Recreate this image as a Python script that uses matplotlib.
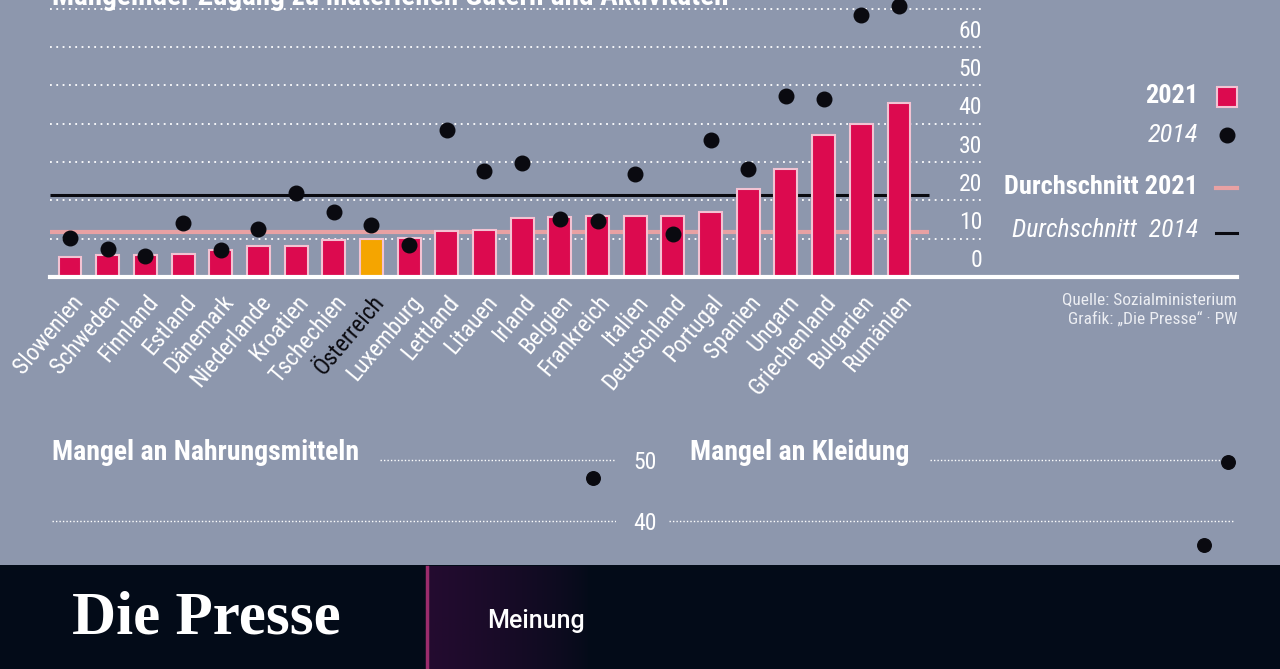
import matplotlib
matplotlib.use("Agg")
import matplotlib.pyplot as plt
import numpy as np
from matplotlib import font_manager as fm
from matplotlib.patches import Rectangle
from matplotlib.lines import Line2D
import matplotlib.transforms as mtransforms

countries = ["Slowenien", "Schweden", "Finnland", "Estland", "Dänemark", "Niederlande",
             "Kroatien", "Tschechien", "Österreich", "Luxemburg", "Lettland", "Litauen",
             "Irland", "Belgien", "Frankreich", "Italien", "Deutschland", "Portugal",
             "Spanien", "Ungarn", "Griechenland", "Bulgarien", "Rumänien"]
values_2021 = [5.3, 5.8, 5.8, 6.0, 7.0, 8.0, 8.0, 9.7, 9.8, 10.3, 11.9, 12.2,
               15.3, 15.6, 15.8, 15.8, 16.0, 17.0, 22.9, 28.3, 37.2, 39.9, 45.5]
values_2014 = [10.3, 7.4, 5.5, 14.2, 7.0, 12.6, 21.9, 17.0, 13.5, 8.3, 38.4, 27.7,
               29.8, 15.2, 14.6, 26.9, 11.3, 35.8, 28.2, 47.3, 46.5, 68.4, 70.8]
avg_2021 = 11.7
avg_2014 = 21.3
y_ticks = [0, 10, 20, 30, 40, 50, 60, 70]

# lower panels (only the top of them is visible)
food_countries = ["Rumänien"]
food_2014 = [47.0]
cloth_countries = ["Bulgarien", "Rumänien"]
cloth_2014 = [36.1, 49.7]
small_ticks = [40, 50]


def pick(names):
    for n in names:
        try:
            fm.findfont(fm.FontProperties(family=n), fallback_to_default=False)
            return n
        except ValueError:
            pass
    return "DejaVu Sans"


cond = pick(["Roboto Condensed", "Liberation Sans Narrow", "DejaVu Sans"])
serif = pick(["Liberation Serif", "DejaVu Serif"])
plt.rcParams["font.family"] = [cond, "DejaVu Sans"]

bg = "#8d97ad"
bar_col = "#dc0a4f"
edge_col = "#f3c3d3"
aut_col = "#f5a500"
avg21_col = "#e8a1a3"
black = "#0a0a10"
white = "#ffffff"

W, H = 1280, 669
fig = plt.figure(figsize=(12.8, 6.69), dpi=100, facecolor=bg)


def px(x0, y0, x1, y1):
    # pixel box (top-left origin) -> figure fraction rect
    return [x0 / W, 1 - y1 / H, (x1 - x0) / W, (y1 - y0) / H]


# main chart
ax = fig.add_axes(px(50, 0, 985, 277))
ax.set_facecolor("none")
step = 37.68
ax.set_xlim(-20 / step, 22 + 86 / step)
ax.set_ylim(0, 277 / 3.83)
for s in ax.spines.values():
    s.set_visible(False)

for v in y_ticks[1:]:
    ax.axhline(v, color=white, lw=1.3, ls=(0, (1, 2.5)), zorder=1)
ax.axhline(0, xmin=0, xmax=(1237 - 50) / (985 - 50), color=white, lw=3,
           clip_on=False, zorder=4)
trans = mtransforms.blended_transform_factory(ax.transAxes, ax.transData)
for v in y_ticks:
    ax.text(0.997, v + 1.2, str(v), transform=trans, ha="right", va="bottom",
            color=white, fontsize=17)

x = list(range(len(countries)))
colors = [aut_col if c == "Österreich" else bar_col for c in countries]
ax.bar(x, values_2021, width=0.61, color=colors, edgecolor=edge_col, lw=1.5, zorder=2)
ax.hlines(avg_2021, -20 / step, 22 + 30 / step, color=avg21_col, lw=3, zorder=1.5)
ax.hlines(avg_2014, -20 / step, 22 + 30 / step, color=black, lw=2.2, zorder=1.5)
ax.scatter(x, values_2014, s=110, color=black, zorder=3, clip_on=False)

ax.set_xticks(x)
ax.set_xticklabels(countries, rotation=50, ha="right", va="top",
                   rotation_mode="anchor", fontsize=17, color=white)
ax.tick_params(axis="x", length=0, pad=10)
ax.tick_params(axis="y", left=False, labelleft=False)
for lab in ax.get_xticklabels():
    if lab.get_text() == "Österreich":
        lab.set_color(black)

# title, cut by the top edge as in the source graphic
fig.text(52 / W, 1 - 5 / H, "Mangelnder Zugang zu materiellen Gütern und Aktivitäten",
         color=white, fontsize=21, fontweight="bold", va="baseline")

# legend
fig.text(1198 / W, 1 - 96 / H, "2021", ha="right", va="center", color=white,
         fontsize=19, fontweight="bold")
fig.text(1198 / W, 1 - 135 / H, "2014", ha="right", va="center", color=white,
         fontsize=19, style="italic")
fig.text(1198 / W, 1 - 187 / H, "Durchschnitt 2021", ha="right", va="center",
         color=white, fontsize=19, fontweight="bold")
fig.text(1198 / W, 1 - 230 / H, "Durchschnitt  2014", ha="right", va="center",
         color=white, fontsize=18.5, style="italic")
fig.patches.append(Rectangle((1217 / W, 1 - 107 / H), 20 / W, 20 / H,
                             transform=fig.transFigure, facecolor=bar_col,
                             edgecolor=edge_col, lw=1.5))
fig.lines.append(Line2D([1227 / W], [1 - 135 / H], marker="o", ms=10.5, color=black,
                        transform=fig.transFigure))
fig.lines.append(Line2D([1216 / W, 1237 / W], [1 - 188 / H] * 2, color=avg21_col,
                        lw=3, transform=fig.transFigure))
fig.lines.append(Line2D([1216 / W, 1237 / W], [1 - 233 / H] * 2, color=black,
                        lw=2.2, transform=fig.transFigure))

fig.text(1237 / W, 1 - 300 / H, "Quelle: Sozialministerium", ha="right", va="center",
         color="#eceef3", fontsize=12.5)
fig.text(1237 / W, 1 - 319 / H, "Grafik: „Die Presse“ · PW", ha="right", va="center",
         color="#eceef3", fontsize=12.5)

# small panels
ppu = 6.1
ylo = 40 - (565 - 521) / ppu
yhi = 50 + (460 - 430) / ppu


def small_panel(x0, x1, last_x, spacing, line_start, names, vals):
    a = fig.add_axes(px(x0, 430, x1, 565))
    a.set_facecolor("none")
    a.set_xlim(22 - (last_x - x0) / spacing, 22 + (x1 - last_x) / spacing)
    a.set_ylim(ylo, yhi)
    a.axis("off")
    a.axhline(50, xmin=(line_start - x0) / (x1 - x0), xmax=1, color=white, lw=1,
              ls=(0, (1, 1.5)))
    a.axhline(40, xmin=0, xmax=1, color=white, lw=1, ls=(0, (1, 1.5)))
    a.scatter([countries.index(n) for n in names], vals, s=95, color=black, zorder=3)
    return a


left = small_panel(52, 616, 593, 24.4, 380, food_countries, food_2014)
small_panel(669, 1235, 1228, 24, 930, cloth_countries, cloth_2014)
fig.text(52 / W, 1 - 452 / H, "Mangel an Nahrungsmitteln", color=white, fontsize=20,
         fontweight="bold", va="center")
fig.text(690 / W, 1 - 452 / H, "Mangel an Kleidung", color=white, fontsize=20,
         fontweight="bold", va="center")
ltrans = mtransforms.blended_transform_factory(left.transAxes, left.transData)
for v in small_ticks:
    left.text((645 - 52) / (616 - 52), v - 0.4, str(v), transform=ltrans, ha="center",
              va="center", color=white, fontsize=17)

# footer band
fig.patches.append(Rectangle((0, 0), 1, 104 / H, transform=fig.transFigure,
                             facecolor="#030b18", edgecolor="none", zorder=5))
glow = fig.add_axes(px(429, 566, 590, 669), zorder=6)
glow.axis("off")
grad = np.zeros((1, 160, 4))
grad[..., 0] = 0.16
grad[..., 1] = 0.05
grad[..., 2] = 0.20
grad[..., 3] = np.linspace(0.85, 0.0, 160) ** 0.7
glow.imshow(grad, aspect="auto", extent=(0, 1, 0, 1))
fig.lines.append(Line2D([427 / W, 427 / W], [0, 102 / H], color="#9c2c6c", lw=2.5,
                        transform=fig.transFigure, zorder=7))
fig.text(72 / W, 1 - 618 / H, "Die Presse", family=serif, fontsize=44,
         fontweight="bold", color=white, va="center", zorder=8)
fig.text(487 / W, 1 - 621 / H, "Meinung", family=["Roboto", "DejaVu Sans"],
         fontweight="medium", fontsize=18, color=white, va="center", zorder=8)

fig.savefig("out.png", dpi=100, facecolor=bg)
